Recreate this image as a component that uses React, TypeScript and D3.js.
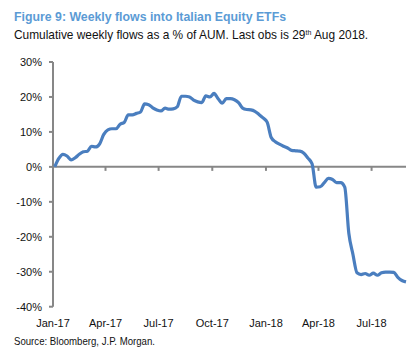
import { useEffect, useRef } from "react";
import * as d3 from "d3";

// weekly observations, first obs 4 Jan 2017, last obs 29 Aug 2018
const firstObs = new Date(2017, 0, 4);
const flows = [
  0, 2.4, 3.6, 3.1, 2.0, 2.6, 3.6, 4.3, 4.5, 5.9, 5.7, 6.6, 9.3, 10.6, 10.9, 10.9,
  12.2, 12.7, 14.9, 14.9, 15.3, 15.7, 18.0, 17.8, 16.9, 16.3, 16.0, 16.8, 16.5, 16.6,
  17.2, 20.2, 20.2, 20.0, 19.1, 18.6, 18.4, 20.3, 20.0, 21.0, 19.5, 18.2, 19.5, 19.5,
  19.2, 18.4, 16.8, 16.4, 16.3, 15.9, 15.0, 14.0, 12.8, 8.4, 7.2, 6.5, 5.9, 5.4, 4.7,
  4.6, 4.5, 3.9, 2.5, 0.9, -5.8, -5.7, -4.5, -3.3, -3.6, -4.5, -4.5, -5.8, -19.0, -25.0,
  -30.3, -30.8, -30.5, -31.0, -30.4, -31.0, -30.3, -30.1, -30.1, -30.2, -31.6, -32.5, -32.9,
];
const yTicks = [30, 20, 10, 0, -10, -20, -30, -40];
const xTickDates = [
  new Date(2017, 0, 1), new Date(2017, 3, 1), new Date(2017, 6, 1), new Date(2017, 9, 1),
  new Date(2018, 0, 1), new Date(2018, 3, 1), new Date(2018, 6, 1),
];
const xTickLabels = ["Jan-17", "Apr-17", "Jul-17", "Oct-17", "Jan-18", "Apr-18", "Jul-18"];

export default function App() {
  const svgRef = useRef<SVGSVGElement>(null);

  useEffect(() => {
    if (!svgRef.current) return;
    const svg = d3.select(svgRef.current);
    svg.selectAll("*").remove();

    const font = "Arial, 'Liberation Sans', sans-serif";
    const axisColor = "#878787";

    const points = flows.map((v, i) => ({ date: d3.timeDay.offset(firstObs, i * 7), value: v }));

    const x = d3.scaleTime()
      .domain([new Date(2017, 0, 1), points[points.length - 1].date])
      .range([53, 406]);
    const y = d3.scaleLinear().domain([-40, 30]).range([306.7, 62]);

    // titles
    svg.append("text")
      .attr("x", 14).attr("y", 21)
      .attr("font-family", font).attr("font-weight", "bold").attr("font-size", 12.5)
      .attr("fill", "#5b9bd5")
      .attr("textLength", 272).attr("lengthAdjust", "spacingAndGlyphs")
      .text("Figure 9: Weekly flows into Italian Equity ETFs");

    const sub = svg.append("text")
      .attr("x", 14).attr("y", 39)
      .attr("font-family", font).attr("font-size", 11.9)
      .attr("fill", "#111");
    sub.append("tspan").text("Cumulative weekly flows as a % of AUM. Last obs is 29");
    sub.append("tspan").attr("font-size", 7).attr("dy", -4).text("th");
    sub.append("tspan").attr("dy", 4).text(" Aug 2018.");

    // y axis
    const g = svg.append("g");
    g.append("line")
      .attr("x1", x.range()[0]).attr("x2", x.range()[0])
      .attr("y1", y(30)).attr("y2", y(-40))
      .attr("stroke", axisColor).attr("stroke-width", 2);
    g.selectAll(".ytick")
      .data(yTicks)
      .enter()
      .append("line")
      .attr("x1", 49).attr("x2", 53)
      .attr("y1", d => y(d)).attr("y2", d => y(d))
      .attr("stroke", axisColor).attr("stroke-width", 2);
    g.selectAll(".ylab")
      .data(yTicks)
      .enter()
      .append("text")
      .attr("x", 42).attr("y", d => y(d))
      .attr("dy", "0.35em")
      .attr("text-anchor", "end")
      .attr("font-family", font).attr("font-size", 11)
      .attr("fill", "#111")
      .text(d => `${d}%`);

    // x axis on the zero line
    g.append("line")
      .attr("x1", x.range()[0]).attr("x2", x.range()[1])
      .attr("y1", y(0)).attr("y2", y(0))
      .attr("stroke", axisColor).attr("stroke-width", 2);
    g.selectAll(".xtick")
      .data(xTickDates.slice(1))
      .enter()
      .append("line")
      .attr("x1", d => x(d)).attr("x2", d => x(d))
      .attr("y1", y(0)).attr("y2", y(0) + 4)
      .attr("stroke", axisColor).attr("stroke-width", 2);
    g.selectAll(".xlab")
      .data(xTickDates)
      .enter()
      .append("text")
      .attr("x", d => x(d)).attr("y", 327)
      .attr("text-anchor", "middle")
      .attr("font-family", font).attr("font-size", 11)
      .attr("fill", "#111")
      .text((_, i) => xTickLabels[i]);

    // the series
    const line = d3.line<{ date: Date; value: number }>()
      .x(d => x(d.date))
      .y(d => y(d.value))
      .curve(d3.curveMonotoneX);
    svg.append("path")
      .datum(points)
      .attr("fill", "none")
      .attr("stroke", "#4a7ebf")
      .attr("stroke-width", 3.2)
      .attr("stroke-linejoin", "round")
      .attr("d", line);

    svg.append("text")
      .attr("x", 14).attr("y", 345)
      .attr("font-family", font).attr("font-size", 10.3)
      .attr("fill", "#111")
      .attr("textLength", 141).attr("lengthAdjust", "spacingAndGlyphs")
      .text("Source: Bloomberg, J.P. Morgan.");
  }, []);

  return (
    <svg
      ref={svgRef}
      width={418}
      height={353}
      style={{ position: "absolute", left: 0, top: 0, background: "#fff" }}
    />
  );
}
